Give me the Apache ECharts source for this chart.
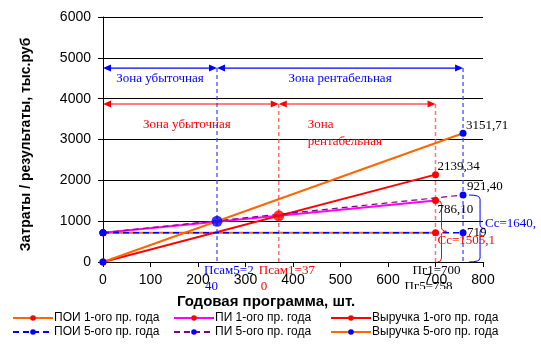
<!DOCTYPE html>
<html>
<head>
<meta charset="utf-8">
<script src="https://cdn.jsdelivr.net/npm/echarts@6/dist/echarts.min.js"></script>
<style>
html, body { margin: 0; padding: 0; background: #fff; }
#chart { width: 541px; height: 353px; }
</style>
</head>
<body>
<div id="chart"></div>
<script>
// данные с графика: [1-й год, 5-й год]
var programs = [700, 758];          // годовая программа, шт.
var fixedCosts = [719, 719];        // ПОИ
var variableCosts = [786.10, 921.40];
var totalCosts = [1505.1, 1640.4];  // ПИ
var revenue = [2139.34, 3151.71];   // выручка
var breakEvenQty = [370, 240];      // Псам
var breakEvenVal = [1131, 998];
var zoneLevels = [3870, 4750];      // уровни стрелок "зона"
var xTicks = [0, 100, 200, 300, 400, 500, 600, 700, 800];
var yTicks = [0, 1000, 2000, 3000, 4000, 5000, 6000];

var BLUE = '#0000FF', RED = '#FF0000', ORANGE = '#FF6600', MAGENTA = '#FF00FF', PURPLE = '#800080';

var myChart = echarts.init(document.getElementById('chart'));

function ln(name, data, lineColor, dotColor, type, width) {
    return {
        name: name,
        type: 'line',
        data: data,
        symbol: 'circle',
        symbolSize: 7,
        showSymbol: true,
        animation: false,
        lineStyle: { color: lineColor, width: width, type: type },
        itemStyle: { color: dotColor }
    };
}

var option = {
    backgroundColor: '#fff',
    animation: false,
    grid: { left: 103, right: 58, top: 17, bottom: 91, containLabel: false, outerBoundsMode: 'none' },
    xAxis: {
        type: 'value',
        min: xTicks[0], max: xTicks[xTicks.length - 1], interval: 100,
        name: 'Годовая программа, шт.',
        nameLocation: 'middle',
        nameGap: 32,
        nameTextStyle: { fontFamily: 'Liberation Sans', fontWeight: 'bold', fontSize: 15, color: '#000', padding: [0, 54, 0, 0] },
        axisLine: { lineStyle: { color: '#000', width: 1 } },
        axisTick: { show: true, length: 5, lineStyle: { color: '#000' } },
        axisLabel: { color: '#000', fontFamily: 'Liberation Sans', fontSize: 14, margin: 11 },
        splitLine: { show: false }
    },
    yAxis: {
        type: 'value',
        min: yTicks[0], max: yTicks[yTicks.length - 1], interval: 1000,
        name: 'Затраты / результаты, тыс.руб',
        nameLocation: 'middle',
        nameGap: 70,
        nameTextStyle: { fontFamily: 'Liberation Sans', fontWeight: 'bold', fontSize: 14, color: '#000', padding: [0, 10, 0, 0] },
        axisLine: { show: true, lineStyle: { color: '#000', width: 1 } },
        axisTick: { show: true, length: 5, lineStyle: { color: '#000' } },
        axisLabel: { color: '#000', fontFamily: 'Liberation Sans', fontSize: 14, margin: 12, formatter: function (v) { return String(v); } },
        splitLine: { show: true, lineStyle: { color: '#000', width: 1 } }
    },
    legend: [0, 1, 2].map(function (c) {
        var names = [['ПОИ 1-ого пр. года', 'ПОИ 5-ого пр. года'],
                     ['ПИ 1-ого пр. года', 'ПИ 5-ого пр. года'],
                     ['Выручка 1-ого пр. года', 'Выручка 5-ого пр. года']][c];
        return {
            data: names,
            orient: 'vertical',
            left: [12, 173, 330][c],
            top: 312,
            padding: 0,
            itemWidth: 40,
            itemHeight: 7,
            itemGap: 2,
            textStyle: { fontFamily: 'Liberation Sans', fontSize: 12, color: '#000', padding: [0, 0, 0, -4] }
        };
    }),
    series: [
        ln('ПОИ 1-ого пр. года', [[0, fixedCosts[0]], [programs[0], fixedCosts[0]]], ORANGE, RED, 'solid', 2),
        ln('ПИ 1-ого пр. года', [[0, fixedCosts[0]], [programs[0], totalCosts[0]]], MAGENTA, RED, 'solid', 2),
        ln('Выручка 1-ого пр. года', [[0, 0], [programs[0], revenue[0]]], RED, RED, 'solid', 2),
        ln('ПОИ 5-ого пр. года', [[0, fixedCosts[1]], [programs[1], fixedCosts[1]]], BLUE, BLUE, [6, 4], 1.5),
        ln('ПИ 5-ого пр. года', [[0, fixedCosts[1]], [programs[1], totalCosts[1]]], PURPLE, BLUE, [6, 4], 1.2),
        ln('Выручка 5-ого пр. года', [[0, 0], [programs[1], revenue[1]]], ORANGE, BLUE, 'solid', 2),
        {
            name: 'Псам',
            type: 'scatter',
            data: [
                { value: [breakEvenQty[0], breakEvenVal[0]], itemStyle: { color: RED } },
                { value: [breakEvenQty[1], breakEvenVal[1]], itemStyle: { color: BLUE } }
            ],
            symbolSize: 11,
            z: 5
        }
    ]
};

myChart.setOption(option);

// подписи и стрелки
function P(x, y) { return myChart.convertToPixel({ gridIndex: 0 }, [x, y]); }
var g = [];
var SERIF = '13px "Liberation Serif"';

function txt(x, y, s, color, align) {
    g.push({
        type: 'text', x: x, y: y, silent: true, z: 10,
        style: { text: s, fill: color, font: SERIF, textAlign: align || 'left', align: align || 'left',
                 textVerticalAlign: 'middle', verticalAlign: 'middle' }
    });
}
function arrowSeg(xa, xb, yv, color) {
    var a = P(xa, yv), b = P(xb, yv), L = 8, H = 3.5;
    g.push({ type: 'line', silent: true, shape: { x1: a[0] + L, y1: a[1], x2: b[0] - L, y2: b[1] }, style: { stroke: color, lineWidth: 1.2 } });
    g.push({ type: 'polygon', silent: true, shape: { points: [[a[0], a[1]], [a[0] + L, a[1] - H], [a[0] + L, a[1] + H]] }, style: { fill: color } });
    g.push({ type: 'polygon', silent: true, shape: { points: [[b[0], b[1]], [b[0] - L, b[1] - H], [b[0] - L, b[1] + H]] }, style: { fill: color } });
}
function vdash(xv, yTop, color) {
    var a = P(xv, yTop), b = P(xv, 0);
    g.push({ type: 'line', silent: true, shape: { x1: a[0], y1: a[1], x2: b[0], y2: b[1] }, style: { stroke: color, lineWidth: 1.5, lineDash: [4, 3] } });
}
function brace(x, top, bot, w, color) {
    var mid = (top + bot) / 2, r = 4;
    var st = { stroke: color, lineWidth: 1, fill: null };
    g.push({ type: 'bezierCurve', silent: true, shape: { x1: x, y1: top, x2: x + w, y2: top + r, cpx1: x + w, cpy1: top }, style: st });
    g.push({ type: 'line', silent: true, shape: { x1: x + w, y1: top + r, x2: x + w, y2: mid - r }, style: st });
    g.push({ type: 'bezierCurve', silent: true, shape: { x1: x + w, y1: mid - r, x2: x + w + 5, y2: mid, cpx1: x + w, cpy1: mid }, style: st });
    g.push({ type: 'bezierCurve', silent: true, shape: { x1: x + w + 5, y1: mid, x2: x + w, y2: mid + r, cpx1: x + w, cpy1: mid }, style: st });
    g.push({ type: 'line', silent: true, shape: { x1: x + w, y1: mid + r, x2: x + w, y2: bot - r }, style: st });
    g.push({ type: 'bezierCurve', silent: true, shape: { x1: x + w, y1: bot - r, x2: x, y2: bot, cpx1: x + w, cpy1: bot }, style: st });
}

// вертикальные пунктиры
vdash(breakEvenQty[1], zoneLevels[1], 'rgba(60,60,255,0.8)');
vdash(programs[1], zoneLevels[1], 'rgba(60,60,255,0.8)');
vdash(breakEvenQty[0], zoneLevels[0], 'rgba(255,80,80,0.8)');
vdash(programs[0], zoneLevels[0], 'rgba(255,80,80,0.8)');

// стрелки зон
arrowSeg(0, breakEvenQty[1], zoneLevels[1], BLUE);
arrowSeg(breakEvenQty[1], programs[1], zoneLevels[1], BLUE);
arrowSeg(0, breakEvenQty[0], zoneLevels[0], RED);
arrowSeg(breakEvenQty[0], programs[0], zoneLevels[0], RED);

var b0 = P(0, zoneLevels[1]), b1 = P(breakEvenQty[1], zoneLevels[1]), b2 = P(programs[1], zoneLevels[1]);
txt((b0[0] + b1[0]) / 2, b0[1] + 11, 'Зона убыточная', BLUE, 'center');
txt((b1[0] + b2[0]) / 2, b0[1] + 11, 'Зона рентабельная', BLUE, 'center');
var r0 = P(0, zoneLevels[0]), r1 = P(breakEvenQty[0], zoneLevels[0]);
txt((r0[0] + r1[0]) / 2 - 4, r0[1] + 21, 'Зона убыточная', RED, 'center');
txt(r1[0] + 29, r0[1] + 21, 'Зона', RED);
txt(r1[0] + 29, r0[1] + 38, 'рентабельная', RED);

// значения
var p;
p = P(programs[1], revenue[1]); txt(p[0] + 3, p[1] - 8, revenue[1].toFixed(2).replace('.', ','), '#000');
p = P(programs[0], revenue[0]); txt(p[0] + 2, p[1] - 8, revenue[0].toFixed(2).replace('.', ','), '#000');
p = P(programs[1], totalCosts[1]); txt(p[0] + 4, p[1] - 8, variableCosts[1].toFixed(2).replace('.', ','), '#000');
p = P(programs[0], totalCosts[0]); txt(p[0] + 2, p[1] + 9, variableCosts[0].toFixed(2).replace('.', ','), '#000');
p = P(programs[1], fixedCosts[1]); txt(p[0] + 4, p[1], String(fixedCosts[1]), '#000');

// фигурные скобки Сс
var t0 = P(programs[0], totalCosts[0]), z0 = P(programs[0], 0);
brace(t0[0] + 2, t0[1], z0[1], 4, RED);
txt(t0[0] + 2, P(0, fixedCosts[0])[1] + 8, 'Cc=' + String(totalCosts[0]).replace('.', ','), RED);
var t1 = P(programs[1], totalCosts[1]), z1 = P(programs[1], 0);
brace(t1[0] + 6, t1[1], z1[1], 11, BLUE);
txt(t1[0] + 22, (t1[1] + z1[1]) / 2 - 5, 'Cc=' + Math.round(totalCosts[1]) + ',', BLUE);

// подписи под осью
var ax = P(0, 0)[1];
p = P(breakEvenQty[1], 0); txt(p[0] - 13, ax + 9, 'Псам5=2', BLUE); txt(p[0] - 12, ax + 25, '40', BLUE);
p = P(breakEvenQty[0], 0); txt(p[0] - 20, ax + 9, 'Псам1=37', RED); txt(p[0] - 18, ax + 25, '0', RED);
p = P(programs[0], 0); txt(p[0] - 23, ax + 9, 'Пг1=700', '#000');
txt(p[0] - 31, ax + 25, 'Пг5=758', '#000');
// нижняя часть подписи Пг5 закрыта в оригинале
g.push({ type: 'rect', silent: true, z: 11, shape: { x: p[0] - 33, y: ax + 27, width: 56, height: 8 }, style: { fill: '#fff' } });

myChart.setOption({ graphic: g });
</script>
</body>
</html>
